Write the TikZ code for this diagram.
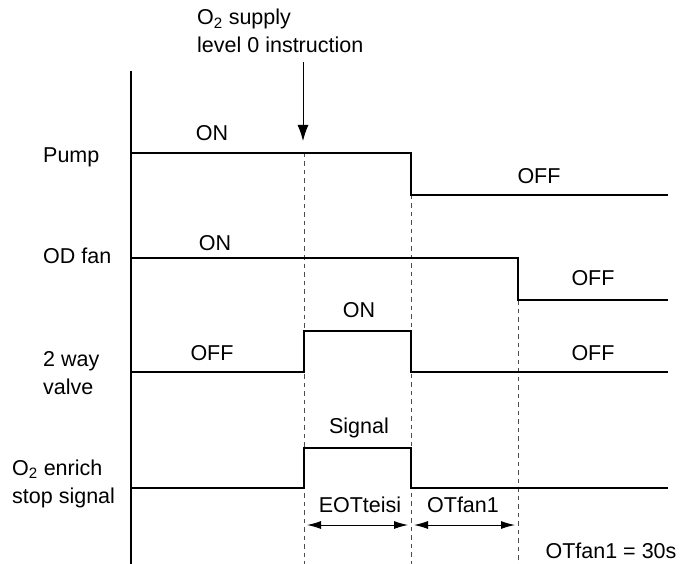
\documentclass[tikz,border=0pt]{standalone}
\usepackage{fontspec}
\setmainfont{Liberation Sans}
\usetikzlibrary{arrows.meta, positioning}

\begin{document}
\begin{tikzpicture}[x=1pt, y=-1pt,
    sig/.style={line width=1.8pt, line join=miter},
    axis/.style={line width=1.1pt},
    guide/.style={dash pattern=on 4.5pt off 4pt, line width=1pt, black!70},
    txt/.style={font=\fontsize{21.5}{28}\selectfont, inner sep=0pt, align=left},
    span/.style={{Latex[length=14pt,width=8pt]}-{Latex[length=14pt,width=8pt]}, line width=1pt},
  ]
  \useasboundingbox (0,0) rectangle (680,564);
  % time marks
  \coordinate (ta) at (304,0);
  \coordinate (tb) at (411,0);
  \coordinate (tc) at (518,0);
  % axis and guides
  \draw[axis] (131,71) -- (131,564);
  \draw[guide] (ta |- 0,153) -- (ta |- 0,564);
  \draw[guide] (tb |- 0,195) -- (tb |- 0,564);
  \draw[guide] (tc |- 0,300) -- (tc |- 0,564);
  % row labels
  \node[txt, anchor=west] (pump) at (43,157) {Pump};
  \node[txt, anchor=west] (odfan) at (43,256) {OD fan};
  \node[txt, anchor=west] (valve) at (43,373) {2 way\\valve};
  \node[txt, anchor=west] (stop) at (12,484) {O\textsubscript{2} enrich\\stop signal};
  % instruction
  \node[txt, anchor=west] (instr) at (197,31) {O\textsubscript{2} supply\\level 0 instruction};
  \coordinate (instrtop) at (303,62);
  \coordinate (instrtip) at (303,141);
  \draw[-{Latex[length=16pt,width=11pt]}, line width=1pt] (instrtop) -- (instrtip);
  % signals
  \draw[sig] (131,153) -| (tb |- 0,195) -- (668,195);
  \draw[sig] (131,258) -| (tc |- 0,300) -- (668,300);
  \draw[sig] (131,372) -| (ta |- 0,331) -| (tb |- 0,372) -- (668,372);
  \draw[sig] (131,488) -| (ta |- 0,448) -| (tb |- 0,488) -- (668,488);
  % states
  \node[txt] (pumpon) at (212,133) {ON};
  \node[txt] (pumpoff) at (539,176) {OFF};
  \node[txt] (fanon) at (215,243) {ON};
  \node[txt] (fanoff) at (593,278) {OFF};
  \node[txt] (valveoffa) at (212,353) {OFF};
  \node[txt] (valveon) at (359,310) {ON};
  \node[txt] (valveoffb) at (593,353) {OFF};
  \node[txt] (sigon) at (359,428) {Signal};
  % intervals
  \coordinate (sa) at (307,525);
  \coordinate (sb) at (408,525);
  \coordinate (sc) at (414,525);
  \coordinate (sd) at (515,525);
  \draw[span] (sa) -- (sb);
  \draw[span] (sc) -- (sd);
  \node[txt] (eot) at (360,505) {EOTteisi};
  \node[txt] (otfan) at (463,505) {OTfan1};
  \node[txt] (note) at (611,551) {OTfan1 = 30s};
\end{tikzpicture}
\end{document}
